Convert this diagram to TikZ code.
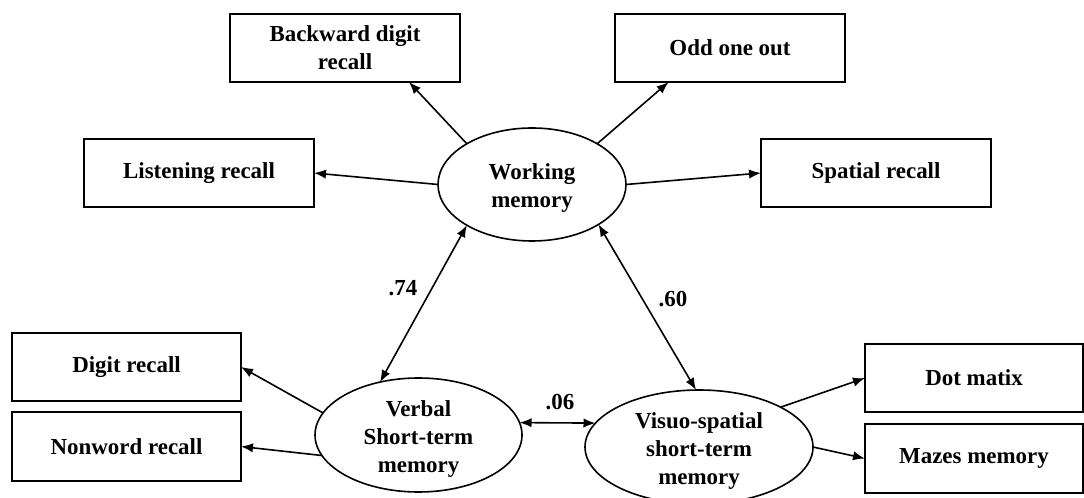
\documentclass[tikz,border=0pt]{standalone}
\usepackage{fontspec}
\setmainfont{Liberation Serif}
\usetikzlibrary{shapes.geometric,arrows.meta}
\newcommand\ellipsetext[1]{\smash{\raisebox{-7pt}{\begin{tabular}{@{}c@{}}#1\end{tabular}}}}
\begin{document}
\begin{tikzpicture}[x=0.75pt,y=-0.75pt,
  font=\fontsize{17.2}{21}\selectfont\bfseries,
  obs/.style={draw, line width=1.2pt, rectangle, minimum width=172.5pt, minimum height=51pt, inner sep=2pt, outer sep=0pt, align=center, fill=white},
  latent/.style={draw, line width=1.2pt, ellipse, inner sep=0pt, outer sep=0pt, fill=white},
  arr/.style={line width=1.2pt, -{Latex[length=9pt,width=7pt]}},
  darr/.style={line width=1.2pt, {Latex[length=9pt,width=7pt]}-{Latex[length=9pt,width=7pt]}},
  lbl/.style={inner sep=0pt}]
\useasboundingbox (0,0) rectangle (1084,498);
% observed boxes
\node[obs] (bdr) at (345,48) {Backward digit\\recall};
\node[obs] (lis) at (199,173) {Listening recall};
\node[obs] (odd) at (730,48) {Odd one out};
\node[obs] (spa) at (876,173) {Spatial recall};
\node[obs, minimum width=171.75pt] (dig) at (126.5,367) {Digit recall};
\node[obs, minimum width=171.75pt, minimum height=51.75pt] (non) at (126.5,446.5) {Nonword recall};
\node[obs, minimum width=163.5pt] (dot) at (974,378) {Dot matix};
\node[obs, minimum width=163.5pt, minimum height=51.75pt] (maz) at (974,458.5) {Mazes memory};
% latent ellipses
\node[latent, minimum width=141pt, minimum height=84.75pt] (wm) at (532,184.5) {\ellipsetext{Working\\memory}};
\node[latent, minimum width=155.25pt, minimum height=85.5pt] (vb) at (418.5,435) {\ellipsetext{Verbal\\Short-term\\memory}};
\node[latent, minimum width=171pt, minimum height=85.5pt] (vs) at (699,447) {\ellipsetext{Visuo-spatial\\short-term\\memory}};
% loadings
\draw[arr] (wm.148) -- (bdr.-28);
\draw[arr] (wm.west) -- (lis.east);
\draw[arr] (wm.32) -- (odd.-151);
\draw[arr] (wm.east) -- (spa.west);
\draw[arr] (vb.167) -- (dig.east);
\draw[arr] (vb.192) -- (non.east);
\draw[arr] (vs.26) -- (dot.west);
\draw[arr] (vs.east) -- (maz.west);
% correlations
\draw[darr] (wm.212) -- (vb.126);
\draw[darr] (wm.-31) -- (vs.93);
\draw[darr] (vb.7) -- (vs.167);
\node[lbl] (l74) at (403,288) {.74};
\node[lbl] (l60) at (673,299) {.60};
\node[lbl] (l06) at (560,402) {.06};
\end{tikzpicture}
\end{document}
